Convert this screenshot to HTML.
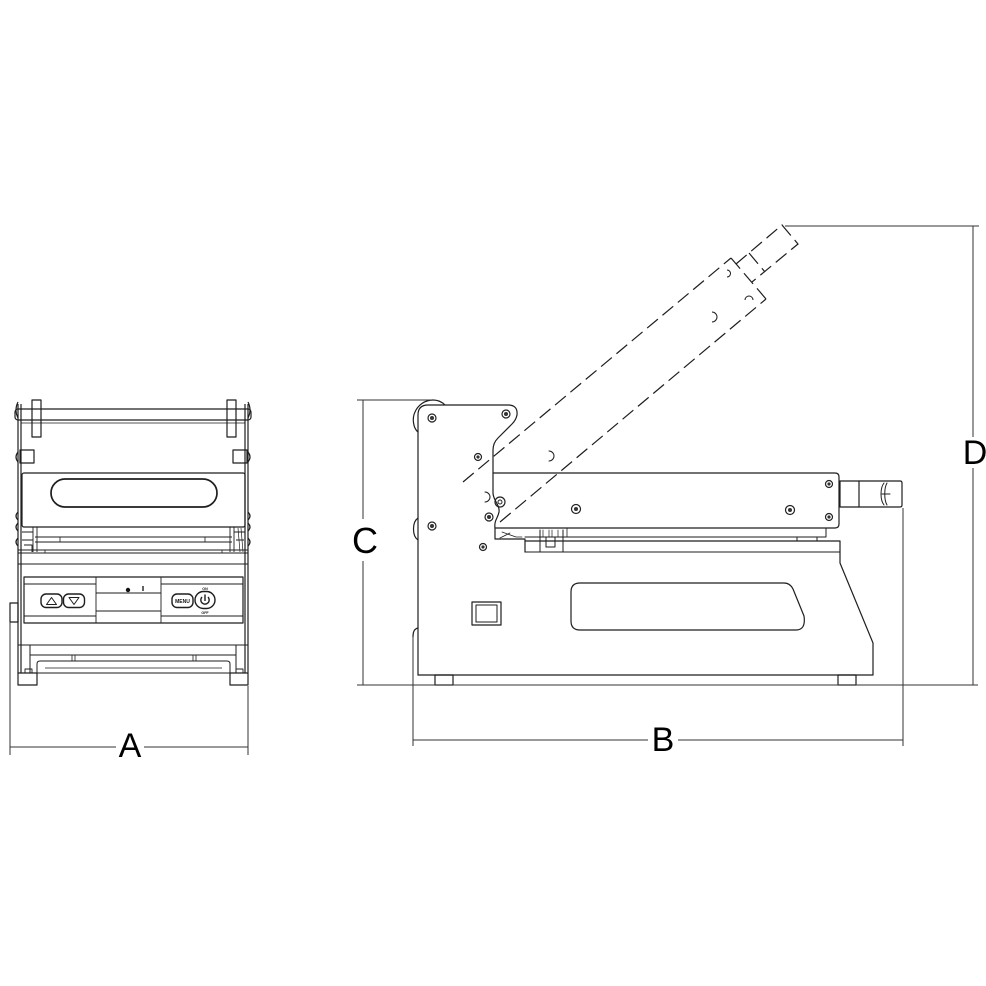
<!DOCTYPE html>
<html><head><meta charset="utf-8"><style>
html,body{margin:0;padding:0;background:#fff;}
svg{display:block;}
text{font-family:"Liberation Sans",sans-serif;}
</style></head><body>
<svg width="986" height="986" viewBox="0 0 986 986" xmlns="http://www.w3.org/2000/svg">
<rect width="986" height="986" fill="#fff"/>

<!-- ================= FRONT VIEW ================= -->
<g fill="none" stroke="#1e1e1e" stroke-width="1.2" stroke-linejoin="round">
  <!-- side frames -->
  <path d="M18,404 V673 M21,404 V673 M245,404 V673 M248,404 V673"/>
  <!-- frame bumps -->
  <path d="M18,452 Q14,457 18,462 M18,512 Q14,516 18,520 M18,523 Q14,527 18,531 M18,538 Q14,542 18,546 M18,402 Q14,410 18,418"/>
  <path d="M248,452 Q252,457 248,462 M248,512 Q252,516 248,520 M248,523 Q252,527 248,531 M248,538 Q252,542 248,546 M248,402 Q252,410 248,418"/>
  <!-- top bar -->
  <rect x="15" y="409" width="236" height="11" rx="3"/>
  <path d="M21,423 H245" stroke-width="0.8"/>
  <!-- tabs -->
  <rect x="32" y="400" width="9" height="37"/>
  <rect x="227" y="400" width="9" height="37"/>
  <!-- small rects -->
  <rect x="20" y="450" width="14" height="13"/>
  <rect x="233" y="450" width="14" height="13"/>
  <!-- lid -->
  <rect x="22" y="473" width="223" height="54" rx="2"/>
  <rect x="51" y="479" width="166" height="28" rx="14" stroke-width="1.7"/>
  <!-- under lid -->
  <path d="M35,537 H232 M35,542 H232 M18,550 H248 M18,553 H248" stroke-width="1"/>
  <path d="M37,527 V552 M33,527 V552 M230,527 V552 M234,527 V552" stroke-width="0.9"/>
  <path d="M22,532 H33 M22,540 H33 M24,545 H32 V552 M234,532 H245 M236,540 H244" stroke-width="0.9"/>
  <path d="M238,528 L240,552 M241,528 L243,552" stroke-width="0.7"/>
  <path d="M60,537 V542 M205,537 V542 M45,550 V553 M222,550 V553" stroke-width="0.8"/>
  <!-- body -->
  <path d="M18,564 H248" stroke-width="1"/>
  <!-- control panel -->
  <rect x="24" y="577" width="219" height="46"/>
  <path d="M24,584 H96 M161,584 H243 M24,616 H96 M161,616 H243" stroke-width="0.9"/>
  <path d="M96,577 V623 M161,577 V623 M96,593 H161 M96,611 H161" stroke-width="0.9"/>
  <!-- buttons -->
  <rect x="41" y="594" width="21" height="13.5" rx="5" stroke-width="1.4"/>
  <path d="M51.5,597.5 L46.5,604.5 H56.5 Z" stroke-width="1"/>
  <rect x="63.5" y="594" width="21" height="13.5" rx="5" stroke-width="1.4"/>
  <path d="M69,597.5 H79 L74,604.5 Z" stroke-width="1"/>
  <rect x="172" y="594" width="21" height="13.5" rx="5" stroke-width="1.4"/>
  <rect x="195" y="591.5" width="20" height="17" rx="8.5" stroke-width="1.4"/>
  <path d="M202,597 A4.2,4.2 0 1 0 208,597" stroke-width="1.4"/>
  <path d="M205,594.5 V601" stroke-width="1.4"/>
  <path d="M143,586 V591" stroke-width="1.4"/>
  <!-- side knob -->
  <rect x="10" y="603" width="8" height="19"/>
  <!-- bottom -->
  <path d="M18,645 H248" stroke-width="1"/>
  <path d="M30,645 V673 M236,645 V673 M30,655 H236" stroke-width="1"/>
  <path d="M37,673 V664 Q37,661 40,661 H227 Q230,661 230,664 V673" stroke-width="1"/>
  <path d="M45,668 H222 M72,655 V661 M75,655 V661 M193,655 V661 M196,655 V661" stroke-width="0.8"/>
  <path d="M18,673 H248" stroke-width="1"/>
  <!-- feet -->
  <rect x="18" y="673" width="19" height="12"/>
  <rect x="230" y="673" width="18" height="12"/>
  <rect x="25" y="669" width="7" height="4" stroke-width="0.9"/>
  <rect x="236" y="669" width="7" height="4" stroke-width="0.9"/>
</g>
<circle cx="128" cy="590" r="2.2" fill="#111"/>
<text x="182.5" y="603" font-size="5" font-weight="bold" text-anchor="middle" fill="#111">MENU</text>
<text x="205" y="590" font-size="3.6" font-weight="bold" text-anchor="middle" fill="#111">ON</text>
<text x="205" y="614" font-size="3.6" font-weight="bold" text-anchor="middle" fill="#111">OFF</text>

<!-- ================= SIDE VIEW ================= -->
<g fill="none" stroke="#1e1e1e" stroke-width="1.2" stroke-linejoin="round" stroke-linecap="round">
  <!-- lobes behind plate -->
  <path d="M418,432 C413,428 412,418 415,412 C418,405 425,400 433,400 C438,400 442,402 445,405"/>
  <path d="M418,518 C412,522 412,536 418,540"/>
  <path d="M418,628 C414,629 413,632 413,637"/>
  <!-- plate -->
  <path d="M418,675 V415 Q418,405 428,405 H508 Q518,405 517,415 Q516,420 512,424 L498,438 Q493,443 493,450 V493 C493,500 500,505 499,512 C498,518 494,520 495,528"/>
  <!-- closed arm -->
  <path d="M493,473 H835 Q839,473 839,477 V524 Q839,528 835,528 H495"/>
  <!-- under arm -->
  <path d="M495,528 V539 H525 V552"/>
  <path d="M525,537 H826 V528" stroke-width="1"/>
  <path d="M797,537 V541 M817,537 V541" stroke-width="1"/>
  <path d="M540,530 V552 M563,530 V552 M546,537 H555 V547 H546 Z" stroke-width="1"/>
  <path d="M543,530 V537 M549,530 V537 M552,530 V537 M558,530 V537" stroke-width="0.7"/>
  <path d="M502,532 L516,537 H522 M500,538 L510,533" stroke-width="0.8"/>
  <path d="M567,528 V537" stroke-width="0.8"/>
  <!-- base -->
  <path d="M525,541 H840 V563 L873,643 V675 H418"/>
  <path d="M525,552 H840" stroke-width="1"/>
  <!-- slot -->
  <path d="M580,583 H784 Q790,583 793,589 L804,616 Q806,630 796,630 H580 Q571,630 571,621 V592 Q571,583 580,583 Z"/>
  <!-- power switch -->
  <rect x="472" y="602" width="29" height="23"/>
  <rect x="476" y="605" width="21" height="17" stroke-width="1"/>
  <!-- feet -->
  <rect x="435" y="675" width="18" height="10"/>
  <rect x="838" y="675" width="18" height="10"/>
  <!-- closed knob -->
  <rect x="840" y="481" width="19" height="26"/>
  <path d="M859,481 H900 Q902,481 902,483 V505 Q902,507 900,507 H859"/>
  <path d="M884,483 C880,488 880,500 884,505 M887,483 C884,488 884,500 887,505 M882,494 H890" stroke-width="1"/>
  <!-- holes -->
  <path d="M485,492 A5,5 0 1 1 485,502" stroke-width="1"/>
  <path d="M549,451 A5,5 0 1 1 549,461" stroke-width="1"/>
</g>
<!-- screws -->
<g fill="none" stroke="#222" stroke-width="1.2">
  <circle cx="432" cy="418" r="4"/><circle cx="506" cy="414" r="4"/>
  <circle cx="478" cy="457" r="3.5"/><circle cx="432" cy="526" r="4"/>
  <circle cx="483" cy="547" r="3.5"/><circle cx="489" cy="517" r="4"/>
  <circle cx="500" cy="502" r="5"/><circle cx="500" cy="502" r="2" stroke-width="1"/>
  <circle cx="576" cy="509" r="4.5"/><circle cx="790" cy="510" r="4.5"/>
  <circle cx="829" cy="484" r="3.5"/><circle cx="829" cy="517" r="3.5"/>
</g>
<g fill="#333">
  <circle cx="432" cy="418" r="2"/><circle cx="506" cy="414" r="2"/>
  <circle cx="478" cy="457" r="1.6"/><circle cx="432" cy="526" r="2"/>
  <circle cx="483" cy="547" r="1.6"/><circle cx="489" cy="517" r="2"/>
  <circle cx="576" cy="509" r="2"/><circle cx="790" cy="510" r="2"/>
  <circle cx="829" cy="484" r="1.6"/><circle cx="829" cy="517" r="1.6"/>
</g>

<!-- dashed open arm -->
<g fill="none" stroke="#1e1e1e" stroke-width="1.2" stroke-dasharray="14 6">
  <path d="M463,482 L731,258"/>
  <path d="M500,522 L766,299"/>
  <path d="M731,258 L766,299"/>
  <path d="M736,264 L782,225 L798,244 L752,282"/>
  <path d="M749,253 L765,272"/>
</g>
<g fill="none" stroke="#1e1e1e" stroke-width="1">
  <path d="M727,270 A3.5,3.5 0 1 1 727,277"/>
  <path d="M745,300 A4,4 0 1 1 753,300"/>
  <path d="M712,312 A5,5 0 1 1 712,322"/>
</g>

<!-- ================= DIMENSIONS ================= -->
<g fill="none" stroke="#333" stroke-width="1">
  <!-- A -->
  <path d="M10,622 V755 M248,686 V755"/>
  <path d="M10,747 H116 M144,747 H248"/>
  <!-- B -->
  <path d="M413,637 V746 M903,508 V746"/>
  <path d="M413,740 H648 M678,740 H903"/>
  <!-- C -->
  <path d="M357,400 H431"/>
  <path d="M357,685 H978"/>
  <path d="M363,400 V519 M363,561 V685"/>
  <!-- D -->
  <path d="M785,226 H979"/>
  <path d="M973,226 V437 M973,468 V685"/>
</g>
<text x="130" y="757" font-size="34" text-anchor="middle" fill="#000">A</text>
<text x="663" y="751" font-size="34" text-anchor="middle" fill="#000">B</text>
<text x="365" y="553" font-size="36" text-anchor="middle" fill="#000">C</text>
<text x="975" y="464" font-size="34" text-anchor="middle" fill="#000">D</text>
</svg>
</body></html>
